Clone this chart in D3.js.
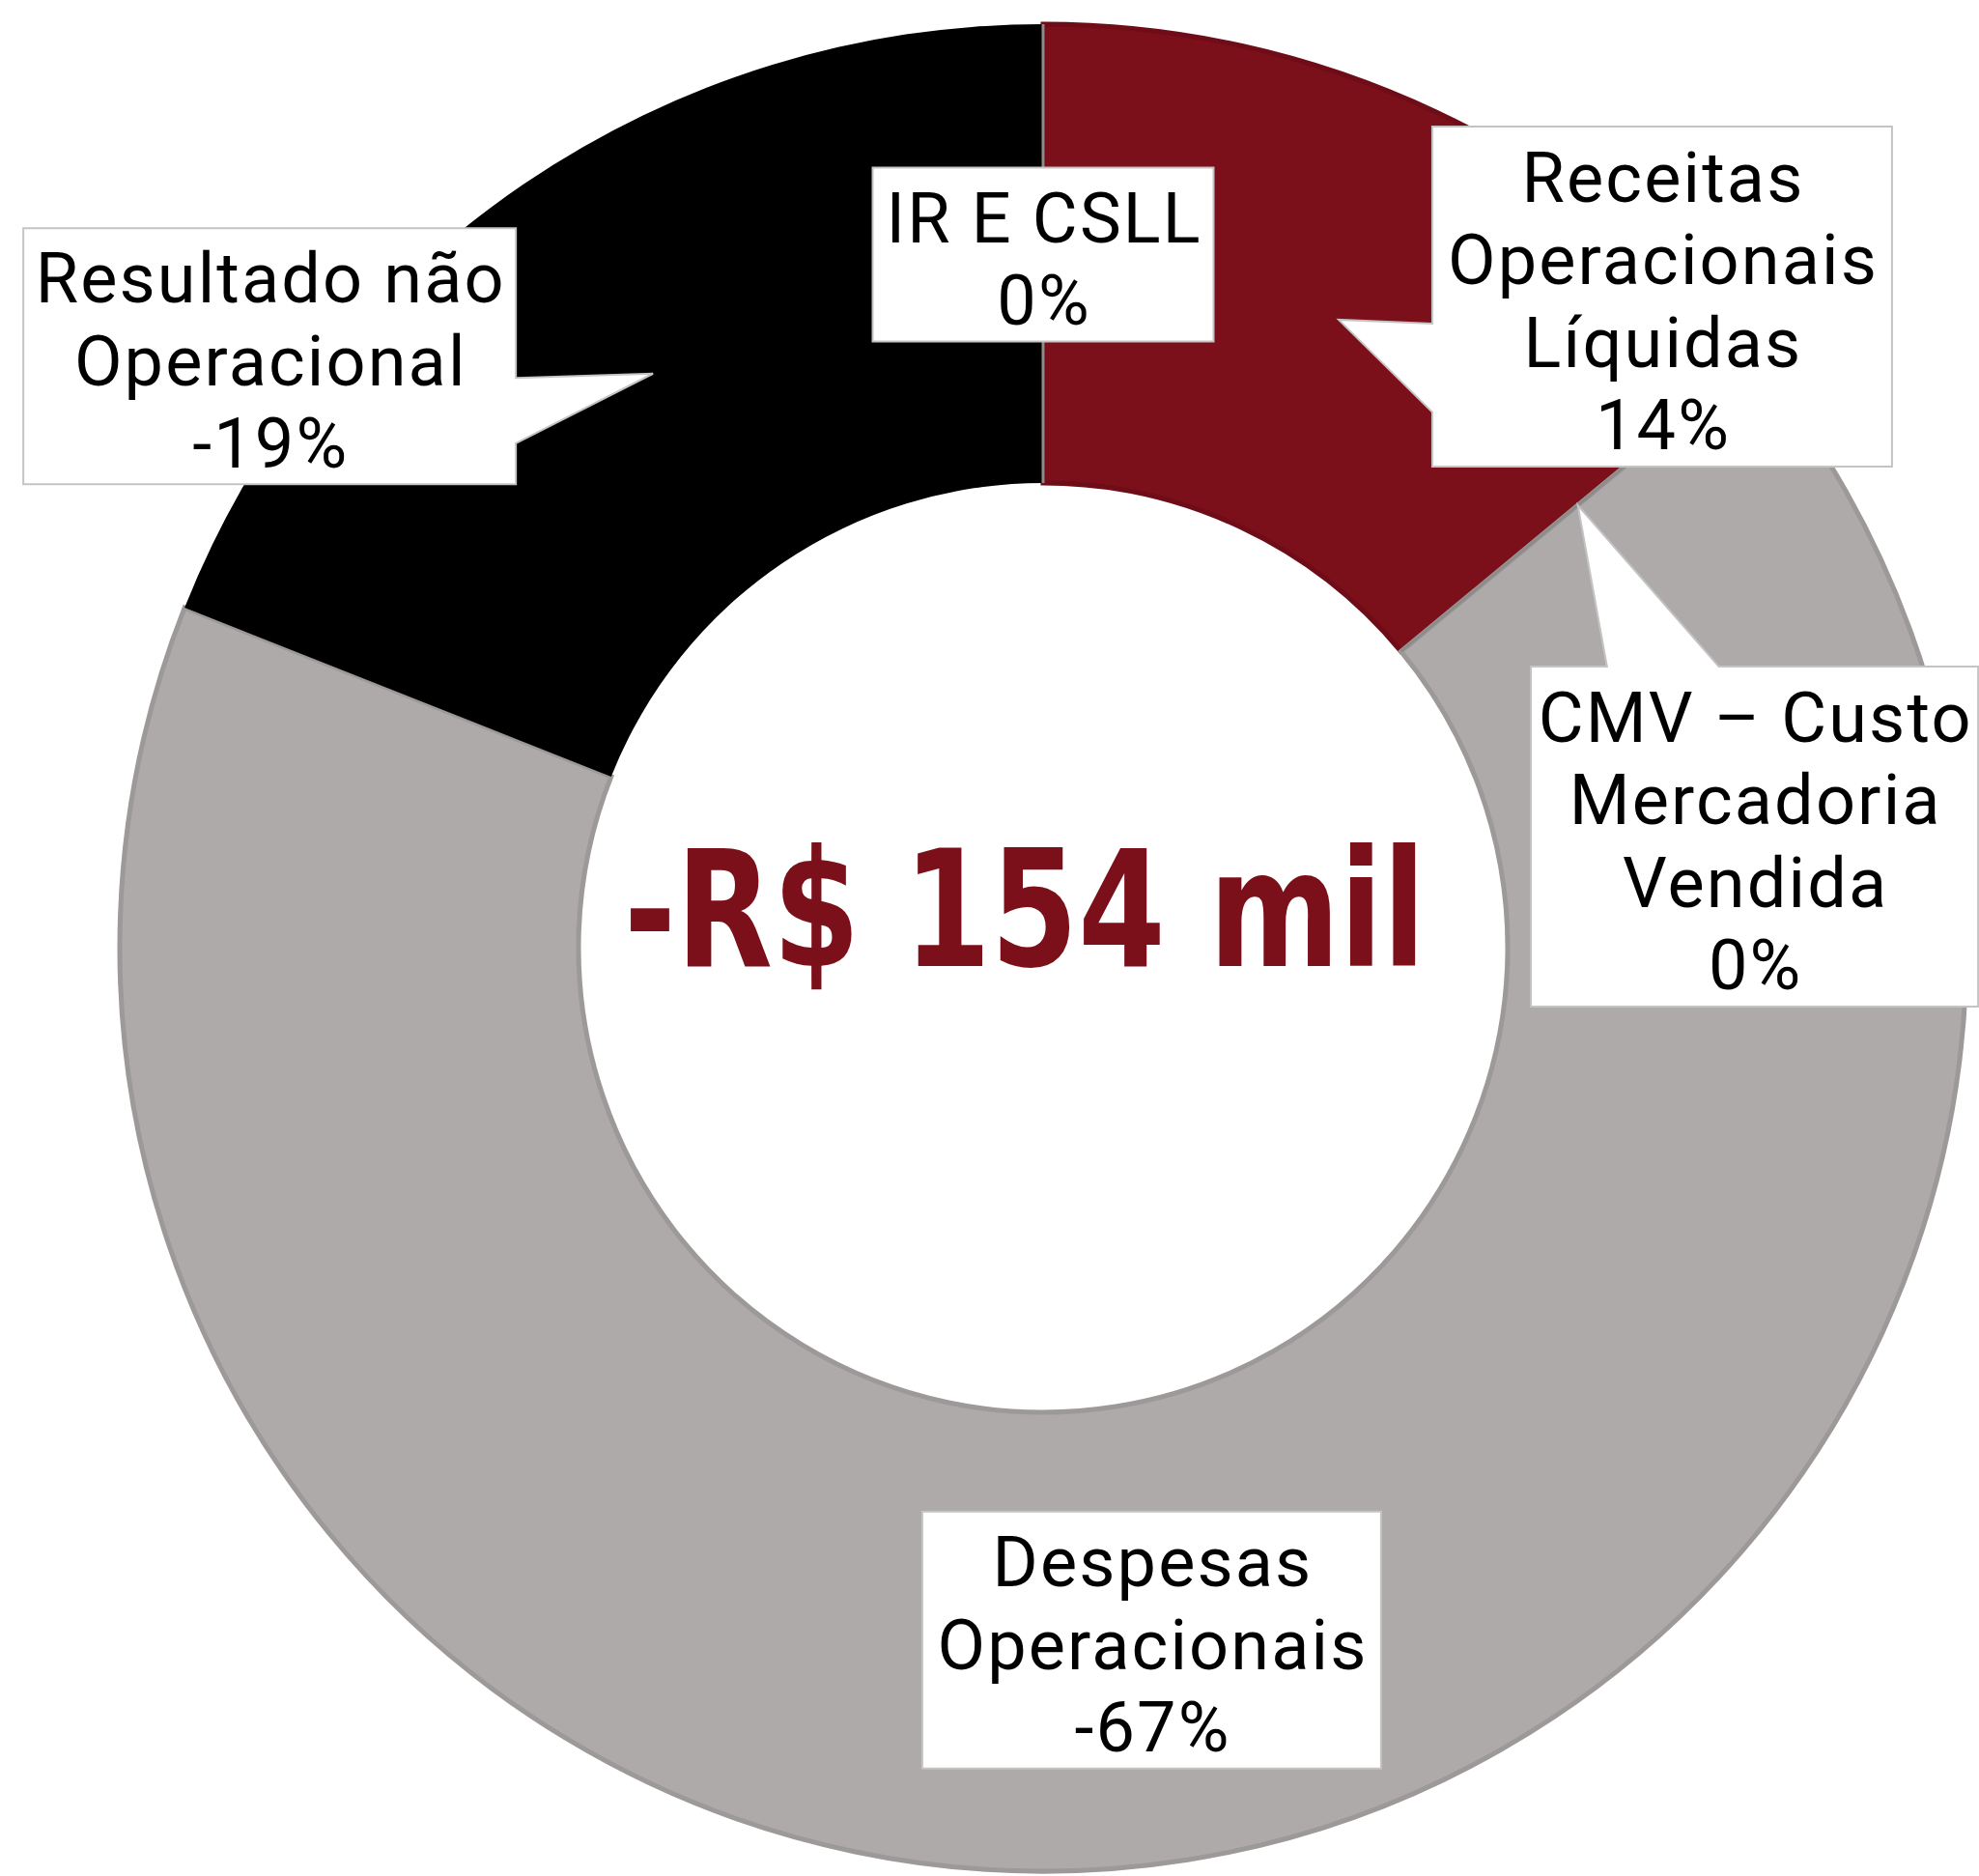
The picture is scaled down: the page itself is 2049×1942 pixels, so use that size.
<!DOCTYPE html>
<html><head><meta charset="utf-8">
<script src="https://cdn.jsdelivr.net/npm/d3@7"></script>
<style>html,body{margin:0;padding:0;background:#fff;} svg{display:block}</style>
</head><body>
<script>
// ---- data ----
const categories = ["Receitas Operacionais Líquidas", "CMV – Custo Mercadoria Vendida", "Despesas Operacionais", "Resultado não Operacional", "IR E CSLL"];
const values = [14, 0, -67, -19, 0];
const centerLabel = "-R$ 154 mil";

// ---- style / layout ----
const fills = ["#7B0F1A", "#ADAAA9", "#ADAAA9", "#000000", "#ADAAA9"];
const strokes = ["#6E0D17", "#8E8B8A", "#9C9998", "#000000", "#8E8B8A"];
const W = 2049, H = 1942, cx = 1080, cy = 981, rOuter = 956, rInner = 481;
const boxes = [
  {dx: 335, dy: -24, w: 476, h: 352, breaks: [1, 1, 1], side: "left", b0: 0.58, b1: 0.84},
  {dx: 183, dy: 343, w: 463, h: 352, breaks: [3, 1, 1], side: "top", b0: 0.17, b1: 0.42},
  {dx: 0, dy: 7, w: 475, h: 266, breaks: [1, 1]},
  {dx: -397, dy: -18, w: 510, h: 265, breaks: [2, 1], side: "right", b0: 0.585, b1: 0.84},
  {dx: 0, dy: 1, w: 353, h: 180, breaks: [3]}
];
const lineGap = 85.5;

const svg = d3.select("body").append("svg").attr("width", W).attr("height", H);
const g = svg.append("g").attr("transform", `translate(${cx},${cy})`);

const data = categories.map((c, i) => ({cat: c, value: values[i], i}));
const total = d3.sum(values, v => Math.abs(v));
const pie = d3.pie().sort(null).value(d => Math.abs(d.value));
const arcs = pie(data);
const arc = d3.arc().innerRadius(rInner).outerRadius(rOuter);

const order = arcs.slice().sort((a, b) => (a.data.value === 0) - (b.data.value === 0));
g.selectAll("path.slice").data(order).join("path")
  .attr("class", "slice")
  .attr("d", arc)
  .attr("fill", d => fills[d.data.i])
  .attr("stroke", d => strokes[d.data.i])
  .attr("stroke-width", d => d.data.value === 0 ? 3 : (d.data.i === 3 ? 0 : 5))
  .attr("stroke-linejoin", "miter");

// center label
g.append("text")
  .attr("x", -19).attr("y", 19)
  .attr("text-anchor", "middle")
  .attr("font-family", "'Liberation Sans Narrow','DejaVu Sans Condensed','Liberation Sans',sans-serif")
  .attr("font-weight", "bold")
  .attr("font-size", 168)
  .attr("fill", "#7B0F1A")
  .attr("textLength", 830)
  .attr("lengthAdjust", "spacingAndGlyphs")
  .text(centerLabel);

// label font, calibrated with letter spacing
const fam = "Roboto,'Open Sans',sans-serif";
const fs = 72;
const probe = svg.append("text").attr("font-family", fam).attr("font-size", fs).text("Operacionais");
const pw = probe.node().getComputedTextLength();
probe.remove();
const ls = Math.max(0, (446 - pw) / 12);

const locale = d3.formatLocale({decimal: ",", thousands: ".", grouping: [3], currency: ["R$", ""], minus: "-"});
const fmt = locale.format(".0%");
arcs.forEach(a => {
  const b = boxes[a.data.i];
  const [tx, ty] = arc.centroid(a);
  const bx = tx + b.dx, by = ty + b.dy;
  const x0 = bx - b.w / 2, x1 = bx + b.w / 2, y0 = by - b.h / 2, y1 = by + b.h / 2;
  let p;
  if (b.side === "right") {
    const pa = y0 + b.b0 * b.h, pb = y0 + b.b1 * b.h;
    p = `M${x0},${y0}L${x1},${y0}L${x1},${pa}L${tx},${ty}L${x1},${pb}L${x1},${y1}L${x0},${y1}Z`;
  } else if (b.side === "left") {
    const pa = y0 + b.b0 * b.h, pb = y0 + b.b1 * b.h;
    p = `M${x0},${y0}L${x1},${y0}L${x1},${y1}L${x0},${y1}L${x0},${pb}L${tx},${ty}L${x0},${pa}Z`;
  } else if (b.side === "top") {
    const pa = x0 + b.b0 * b.w, pb = x0 + b.b1 * b.w;
    p = `M${x0},${y0}L${pa},${y0}L${tx},${ty}L${pb},${y0}L${x1},${y0}L${x1},${y1}L${x0},${y1}Z`;
  } else {
    p = `M${x0},${y0}L${x1},${y0}L${x1},${y1}L${x0},${y1}Z`;
  }
  g.append("path").attr("d", p).attr("fill", "#fff").attr("stroke", "#C4C4C4").attr("stroke-width", 2);

  const words = a.data.cat.split(" ");
  const lines = [];
  let k = 0;
  b.breaks.forEach(n => { lines.push(words.slice(k, k + n).join(" ")); k += n; });
  lines.push(fmt(a.data.value / total));
  const n = lines.length;
  lines.forEach((ln, j) => {
    g.append("text").attr("font-family", fam).attr("font-size", fs)
      .attr("letter-spacing", ls)
      .attr("text-anchor", "middle").attr("fill", "#000")
      .attr("x", bx + ls / 2)
      .attr("y", by + 4 + (j - (n - 1) / 2) * lineGap + fs * 0.36)
      .text(ln);
  });
});
</script>
</body></html>
